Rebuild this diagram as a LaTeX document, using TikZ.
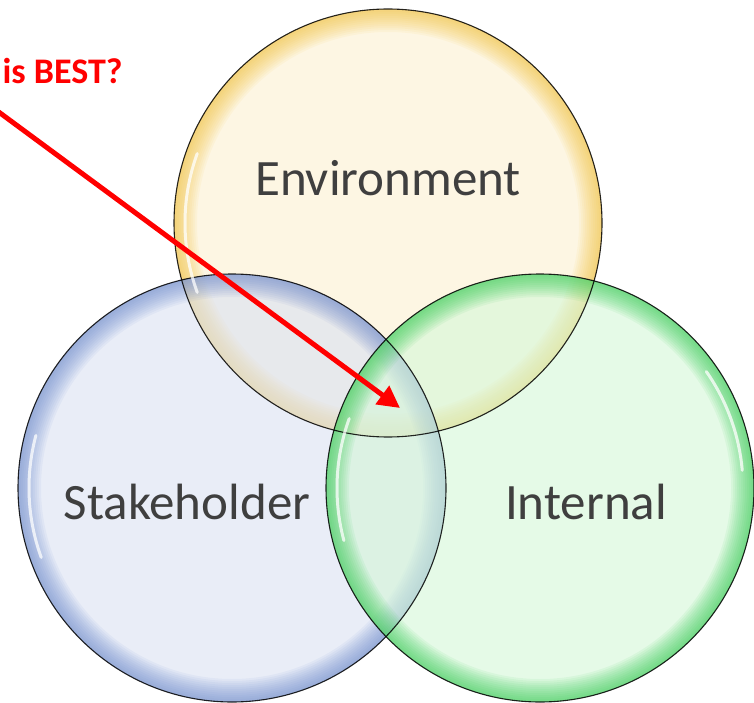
\documentclass[tikz,border=0pt]{standalone}
\usepackage{fontspec}
\setmainfont{Carlito}
\usetikzlibrary{arrows.meta}
\definecolor{yin}{RGB}{252,240,208}
\definecolor{yrim}{RGB}{242,190,50}
\definecolor{bin}{RGB}{218,225,242}
\definecolor{brim}{RGB}{100,130,200}
\definecolor{gin}{RGB}{212,247,215}
\definecolor{grim}{RGB}{40,200,70}
\definecolor{txtgray}{RGB}{63,63,63}
\tikzset{
  venn/.style={circle, minimum size=428pt, inner sep=0pt, outer sep=0pt, fill opacity=0.6},
  rimline/.style={draw=black, line width=1.1pt, draw opacity=0.85},
  gloss/.style={draw=white, line width=3pt, draw opacity=0.75, line cap=round},
  label/.style={font=\fontsize{51}{60}\selectfont, text=txtgray},
  arrowline/.style={draw=red, line width=5pt, -{Triangle[length=22pt,width=22pt]}}
}
\newcommand{\rimglow}[2]{%
  \begin{scope}
    \clip #1 circle (214);
    \foreach \w in {46,42,...,2}{
      \draw[draw=#2, line width=\w pt, draw opacity=0.07] #1 circle (214);
    }
  \end{scope}}
\begin{document}
\begin{tikzpicture}[x=1pt,y=-1pt]
\useasboundingbox (0,0) rectangle (754,703);
% circles
\node[venn, fill=yin] (env) at (388,223) {};
\rimglow{(388,223)}{yrim}
\node[venn, fill=bin] (stk) at (232,488) {};
\rimglow{(232,488)}{brim}
\node[venn, fill=gin] (int) at (540,488) {};
\rimglow{(540,488)}{grim}
% outlines
\draw[rimline] (env.center) circle (214);
\draw[rimline] (stk.center) circle (214);
\draw[rimline] (int.center) circle (214);
% gloss highlights
\draw[gloss] (388,223) ++(160:203) arc[start angle=160, end angle=200, radius=203];
\draw[gloss] (232,488) ++(160:203) arc[start angle=160, end angle=195, radius=203];
\draw[gloss] (540,488) ++(165:203) arc[start angle=165, end angle=200, radius=203];
\draw[gloss] (540,488) ++(-5:203) arc[start angle=-5, end angle=-35, radius=203];
% labels
\node[label] (envtxt) at (388,178) {Environment};
\node[label] (stktxt) at (187,502) {Stakeholder};
\node[label] (inttxt) at (586,502) {Internal};
\node[anchor=base east, font=\bfseries\fontsize{36}{43}\selectfont, text=red] (best) at (126,84) {is BEST?};
% arrow
\coordinate (astart) at (-4,110);
\coordinate (atip) at (400,408);
\draw[arrowline] (astart) -- (atip);
\end{tikzpicture}
\end{document}
